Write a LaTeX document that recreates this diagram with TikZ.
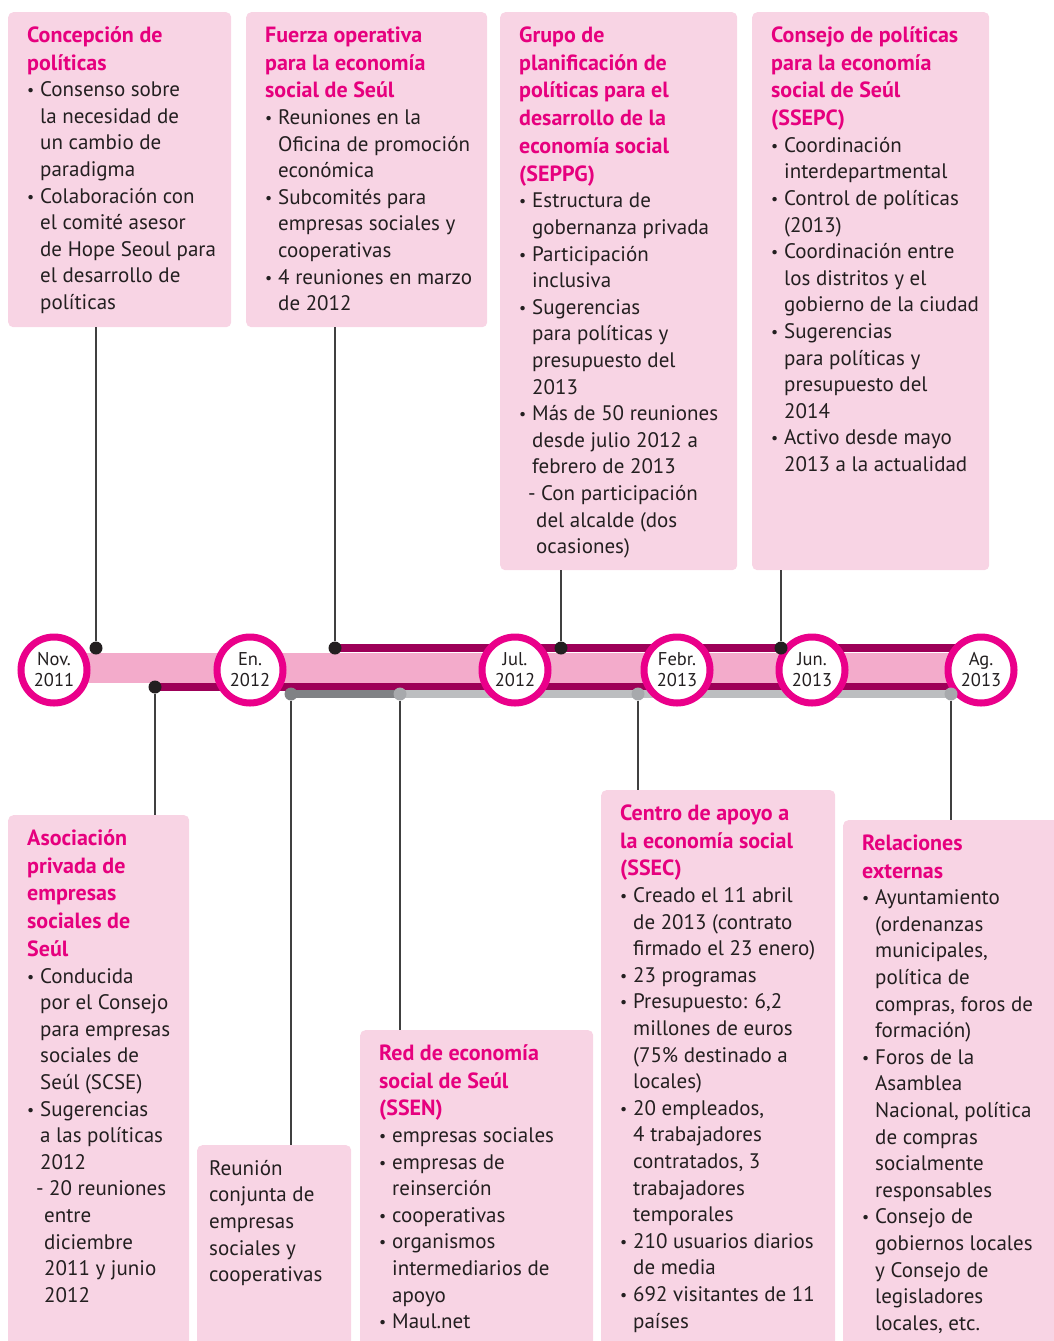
\documentclass[tikz,border=0pt]{standalone}
\usepackage{fontspec}
\setmainfont{PT Sans}
\usetikzlibrary{backgrounds}

\definecolor{boxpink}{HTML}{F8D4E4}
\definecolor{titlepink}{HTML}{E6007E}
\definecolor{bandpink}{HTML}{F3ABCB}
\definecolor{banddark}{HTML}{9D0058}
\definecolor{ringpink}{HTML}{EA008A}
\definecolor{txtdark}{HTML}{231F20}
\definecolor{dotgray}{HTML}{808285}
\definecolor{dotlight}{HTML}{A7A9AC}
\definecolor{linelight}{HTML}{BCBEC0}

%% bullet lines and their continuation
\newcommand{\bl}{\makebox[13pt][l]{\raisebox{1pt}{\scalebox{0.75}{\textbullet}}}}
\newcommand{\cl}{\hspace*{13pt}}
\newcommand{\dl}{\makebox[22pt][l]{\hspace{9pt}-}}
\newcommand{\dc}{\hspace*{17pt}}
\newcommand{\ttl}[1]{{\fontsize{22}{27.8}\selectfont\bfseries\color{titlepink}#1\par}}
\newcommand{\boxtxt}[4]{\parbox[t][#2][t]{#1}{\raggedright\leftskip=#3\vspace*{10pt}\leavevmode\rule{0pt}{20pt}#4}}

\tikzset{
  infobox/.style={anchor=north west, fill=boxpink, rounded corners=5pt, inner sep=0pt,
    text=txtdark, font=\fontsize{21}{26.6}\selectfont},
  datecirc/.style={circle, draw=ringpink, line width=7pt, fill=white, minimum size=66pt,
    inner sep=0pt, align=center, text=txtdark, font=\fontsize{18.5}{21}\selectfont},
  dot/.style={circle, fill=txtdark, minimum size=13pt, inner sep=0pt},
  conn/.style={draw=black!75, line width=1.4pt}
}

\begin{document}
\begin{tikzpicture}[x=1pt,y=-1pt]
\useasboundingbox (0,0) rectangle (1053,1341);

%% Upper boxes
\node[infobox] (polit) at (8,12) {\boxtxt{223pt}{315pt}{19pt}{\ttl{Concepción de\\ políticas}
\bl Consenso sobre\\ \cl la necesidad de\\ \cl un cambio de\\ \cl paradigma\\
\bl Colaboración con\\ \cl el comité asesor\\ \cl de Hope Seoul para\\ \cl el desarrollo de\\ \cl políticas}};
\node[infobox] (fuerza) at (246,12) {\boxtxt{241pt}{315pt}{19pt}{\ttl{Fuerza operativa\\ para la economía\\ social de Seúl}
\bl Reuniones en la\\ \cl Oficina de promoción\\ \cl económica\\
\bl Subcomités para\\ \cl empresas sociales y\\ \cl cooperativas\\
\bl 4 reuniones en marzo\\ \cl de 2012}};
\node[infobox] (seppg) at (500,12) {\boxtxt{237pt}{558pt}{19pt}{\ttl{Grupo de\\ planificación de\\ políticas para el\\ desarrollo de la\\ economía social\\ (SEPPG)}
\bl Estructura de\\ \cl gobernanza privada\\
\bl Participación\\ \cl inclusiva\\
\bl Sugerencias\\ \cl para políticas y\\ \cl presupuesto del\\ \cl 2013\\
\bl Más de 50 reuniones\\ \cl desde julio 2012 a\\ \cl febrero de 2013\\
\dl Con participación\\ \dc del alcalde (dos\\ \dc ocasiones)}};
\node[infobox] (ssepc) at (752,12) {\boxtxt{237pt}{558pt}{19pt}{\ttl{Consejo de políticas\\ para la economía\\ social de Seúl\\ (SSEPC)}
\bl Coordinación\\ \cl interdepartmental\\
\bl Control de políticas\\ \cl (2013)\\
\bl Coordinación entre\\ \cl los distritos y el\\ \cl gobierno de la ciudad\\
\bl Sugerencias\\ \cl para políticas y\\ \cl presupuesto del\\ \cl 2014\\
\bl Activo desde mayo\\ \cl 2013 a la actualidad}};

%% Lower boxes
\node[infobox] (asoc) at (8,815) {\boxtxt{181pt}{545pt}{19pt}{\ttl{Asociación\\ privada de\\ empresas\\ sociales de\\ Seúl}
\bl Conducida\\ \cl por el Consejo\\ \cl para empresas\\ \cl sociales de\\ \cl Seúl (SCSE)\\
\bl Sugerencias\\ \cl a las políticas\\ \cl 2012\\
\dl 20 reuniones\\ \dc entre\\ \dc diciembre\\ \dc 2011 y junio\\ \dc 2012}};
\node[infobox] (reunion) at (197,1145) {\boxtxt{154pt}{215pt}{12pt}{Reunión\\ conjunta de\\ empresas\\ sociales y\\ cooperativas}};
\node[infobox] (ssen) at (360,1030) {\boxtxt{233pt}{330pt}{19pt}{\ttl{Red de economía\\ social de Seúl\\ (SSEN)}
\bl empresas sociales\\
\bl empresas de\\ \cl reinserción\\
\bl cooperativas\\
\bl organismos\\ \cl intermediarios de\\ \cl apoyo\\
\bl Maul.net}};
\node[infobox] (ssec) at (601,790) {\boxtxt{234pt}{570pt}{19pt}{\ttl{Centro de apoyo a\\ la economía social\\ (SSEC)}
\bl Creado el 11 abril\\ \cl de 2013 (contrato\\ \cl firmado el 23 enero)\\
\bl 23 programas\\
\bl Presupuesto: 6,2\\ \cl millones de euros\\ \cl (75\% destinado a\\ \cl locales)\\
\bl 20 empleados,\\ \cl 4 trabajadores\\ \cl contratados, 3\\ \cl trabajadores\\ \cl temporales\\
\bl 210 usuarios diarios\\ \cl de media\\
\bl 692 visitantes de 11\\ \cl países}};
\node[infobox] (relext) at (843,820) {\boxtxt{230pt}{540pt}{19pt}{\ttl{Relaciones\\ externas}
\bl Ayuntamiento\\ \cl (ordenanzas\\ \cl municipales,\\ \cl política de\\ \cl compras, foros de\\ \cl formación)\\
\bl Foros de la\\ \cl Asamblea\\ \cl Nacional, política\\ \cl de compras\\ \cl socialmente\\ \cl responsables\\
\bl Consejo de\\ \cl gobiernos locales\\ \cl y Consejo de\\ \cl legisladores\\ \cl locales, etc.}};

%% Dates
\node[datecirc] (nov) at (54,670) {Nov.\\2011};
\node[datecirc] (en) at (250,670) {En.\\2012};
\node[datecirc] (jul) at (515,670) {Jul.\\2012};
\node[datecirc] (feb) at (677,670) {Febr.\\2013};
\node[datecirc] (jun) at (812,670) {Jun.\\2013};
\node[datecirc] (ag) at (981,670) {Ag.\\2013};

%% Dots
\node[dot] (dpolit) at (96,648) {};
\node[dot] (dasoc) at (155,687) {};
\node[dot] (dfuerza) at (335,648) {};
\node[dot,fill=dotgray] (dreunion) at (291,694) {};
\node[dot,fill=dotlight] (dssen) at (400,694) {};
\node[dot] (dseppg) at (561,648) {};
\node[dot,fill=dotlight] (dssec) at (638,694) {};
\node[dot] (dssepc) at (781,648) {};
\node[dot,fill=dotlight] (drelext) at (951,694) {};

%% Band
\begin{scope}[on background layer]
  \draw[bandpink, line width=30pt] ([yshift=2pt]nov.center) -- ([yshift=2pt]ag.center);
  \draw[banddark, line width=8.5pt] (dfuerza.center) -- (dfuerza.center -| ag.center);
  \draw[banddark, line width=8pt] (dasoc.center) -- (dasoc.center -| ag.center);
  \draw[dotgray, line width=7.5pt] (dreunion.center) -- (dssen.center);
  \draw[linelight, line width=7.5pt] (dssen.center) -- (dssen.center -| ag.center);
\end{scope}

%% Connectors up
\draw[conn] (dpolit) -- (dpolit |- polit.south);
\draw[conn] (dfuerza) -- (dfuerza |- fuerza.south);
\draw[conn] (dseppg) -- (dseppg |- seppg.south);
\draw[conn] (dssepc) -- (dssepc |- ssepc.south);
%% Connectors down
\draw[conn] (dasoc) -- (dasoc |- asoc.north);
\draw[conn] (dreunion) -- (dreunion |- reunion.north);
\draw[conn] (dssen) -- (dssen |- ssen.north);
\draw[conn] (dssec) -- (dssec |- ssec.north);
\draw[conn] (drelext) -- (drelext |- relext.north);
\end{tikzpicture}
\end{document}
